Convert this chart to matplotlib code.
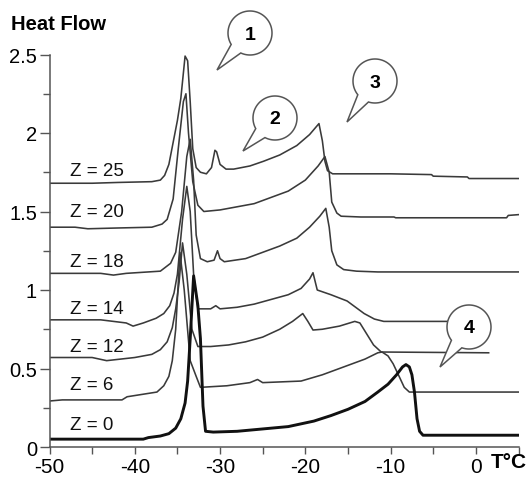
import numpy as np
import matplotlib.pyplot as plt
from matplotlib.patches import Polygon

plt.rcParams['font.family'] = ['Liberation Sans', 'DejaVu Sans']

# traced curves (temperature in degC, heat flow)
t_z25 = [-50, -45, -42, -38, -37, -36.5, -36.0, -35.5, -35.0, -34.6, -34.1, -33.8, -33.5, -33.2,
         -32.8, -32.3, -31.6, -31.0, -30.6, -30.4, -30.0, -29.3, -28.4, -26.5, -24.9, -23, -21,
         -19.5, -18.4, -18.0, -17.7, -17.4, -16.8, -10, -5.2, -5.0, -1.0, -0.8, 5]
hf_z25 = [1.68, 1.68, 1.685, 1.69, 1.70, 1.73, 1.80, 1.94, 2.08, 2.22, 2.49, 2.46, 2.2, 1.9,
          1.78, 1.75, 1.74, 1.78, 1.89, 1.88, 1.80, 1.77, 1.77, 1.79, 1.82, 1.86, 1.92,
          1.99, 2.06, 1.95, 1.82, 1.76, 1.74, 1.74, 1.735, 1.725, 1.72, 1.71, 1.71]

t_z20 = [-50, -47, -45.5, -42, -38, -36.8, -36.2, -35.5, -34.9, -34.3, -34.0, -33.7, -33.2,
         -32.6, -31.9, -30, -28, -26, -24, -22, -20, -18.5, -17.7, -17.2, -16.9, -16.3, -15.8,
         -13.5, -9.6, -9.4, 3.6, 3.8, 5]
hf_z20 = [1.40, 1.40, 1.39, 1.395, 1.40, 1.42, 1.45, 1.58, 1.90, 2.20, 2.25, 2.0, 1.69,
          1.54, 1.50, 1.51, 1.53, 1.55, 1.59, 1.63, 1.70, 1.79, 1.85, 1.75, 1.56, 1.49, 1.47,
          1.465, 1.465, 1.46, 1.46, 1.475, 1.48]

t_z18 = [-50, -44, -42.5, -41, -37, -35.8, -35.2, -34.5, -33.9, -33.5, -33.1, -32.8, -32.3,
         -31.5, -30.7, -30.3, -30.0, -29.5, -27, -25, -23, -21, -19.5, -18.3, -17.6, -17.2,
         -16.9, -16.3, -15.5, -14, -11.5, 5]
hf_z18 = [1.106, 1.106, 1.095, 1.106, 1.12, 1.17, 1.24, 1.5, 1.85, 1.96, 1.7, 1.35, 1.20,
          1.18, 1.19, 1.25, 1.20, 1.18, 1.20, 1.24, 1.28, 1.33, 1.40, 1.47, 1.52, 1.40,
          1.25, 1.16, 1.13, 1.12, 1.115, 1.115]

t_z14 = [-50, -44, -41, -40.2, -39, -37.5, -36.6, -35.9, -35.4, -35.0, -34.4, -33.9, -33.5,
         -33.1, -32.6, -31.1, -30.5, -30.0, -28, -26, -24, -22, -20.5, -19.5, -19.1, -18.6,
         -17, -15.1, -13.1, -11.9, -10.8, -1]
hf_z14 = [0.81, 0.81, 0.79, 0.77, 0.79, 0.82, 0.85, 0.90, 0.98, 1.10, 1.45, 1.66, 1.5,
          1.1, 0.88, 0.88, 0.90, 0.88, 0.89, 0.91, 0.94, 0.97, 1.01, 1.07, 1.11, 1.00,
          0.97, 0.93, 0.85, 0.815, 0.80, 0.80]

t_z12 = [-50, -45, -43.3, -40, -38, -37, -36.2, -35.6, -35.2, -34.8, -34.4, -33.9, -33.3,
         -32.6, -31.1, -29, -27, -25, -23, -21.5, -20.3, -19.7, -19.1, -18, -16, -14.2,
         -13.6, -12.8, -12, -11.1, 1.5]
hf_z12 = [0.57, 0.57, 0.55, 0.57, 0.59, 0.62, 0.67, 0.76, 0.88, 1.05, 1.30, 1.1, 0.75,
          0.64, 0.64, 0.65, 0.67, 0.70, 0.75, 0.80, 0.85, 0.80, 0.745, 0.75, 0.77, 0.80,
          0.79, 0.72, 0.65, 0.605, 0.60]

t_z6 = [-50, -48.5, -41.5, -40.9, -37.4, -36.6, -36.0, -35.6, -35.2, -34.7, -34.2, -33.5,
        -32.8, -32.3, -29.2, -26.5, -25.6, -25.0, -20.5, -18, -15.5, -13, -11.5, -11.0,
        -10.3, -9.7, -9.0, -8.4, -7.8, 5]
hf_z6 = [0.293, 0.30, 0.30, 0.32, 0.35, 0.39, 0.45, 0.55, 0.75, 1.24, 1.0, 0.55,
         0.45, 0.38, 0.39, 0.41, 0.43, 0.41, 0.42, 0.46, 0.51, 0.56, 0.60, 0.605,
         0.58, 0.53, 0.45, 0.38, 0.35, 0.35]

t_z0 = [-50, -39, -38.4, -37, -36, -35.2, -34.6, -34.1, -33.8, -33.5, -33.1, -32.6, -32.3,
        -32.0, -31.7, -30.8, -28, -25, -22, -19, -17, -15, -13, -11.5, -10.3, -9.3, -8.6,
        -8.2, -7.8, -7.5, -7.2, -6.9, -6.6, -6.2, 5]
hf_z0 = [0.05, 0.05, 0.06, 0.07, 0.085, 0.12, 0.18, 0.28, 0.42, 0.69, 1.09, 0.9, 0.69,
         0.26, 0.10, 0.095, 0.10, 0.115, 0.13, 0.165, 0.20, 0.24, 0.29, 0.35, 0.40, 0.46,
         0.51, 0.525, 0.51, 0.46, 0.35, 0.18, 0.10, 0.075, 0.075]

curves = [(t_z25, hf_z25), (t_z20, hf_z20), (t_z18, hf_z18), (t_z14, hf_z14),
          (t_z12, hf_z12), (t_z6, hf_z6)]

z_labels = ['Z = 25', 'Z = 20', 'Z = 18', 'Z = 14', 'Z = 12', 'Z = 6', 'Z = 0']
z_label_y = [1.76, 1.50, 1.18, 0.88, 0.64, 0.40, 0.146]

callout_labels = ['1', '2', '3', '4']
# bubble centre and tail tip, in figure pixels
callout_pos = [((250, 34), (217, 71)), ((275, 119), (243, 152)),
               ((375, 82), (347, 123)), ((469, 328), (440, 368))]

fig = plt.figure(figsize=(5.26, 4.81), dpi=100)
ax = fig.add_axes([49.5 / 526, 1 - 448 / 481, (518.5 - 49.5) / 526, (448 - 55.5) / 481])

line_col = '#3a3a3a'
for t, hf in curves:
    ax.plot(t, hf, color=line_col, lw=1.15)
ax.plot(t_z0, hf_z0, color='#111111', lw=2.1)

for lab, y in zip(z_labels, z_label_y):
    ax.text(-47.6, y, lab, fontsize=13.5, ha='left', va='center', color='#111111')

ax.set_xlim(-50, 5)
ax.set_ylim(0, 2.5)
ax.set_xticks(np.arange(-50, 1, 10))
ax.set_xticks(np.arange(-45, 6, 5), minor=True)
ax.set_xticklabels([str(v) for v in range(-50, 1, 10)])
ax.set_yticks([0, 0.5, 1, 1.5, 2, 2.5])
ax.set_yticklabels(['0', '0.5', '1', '1.5', '2', '2.5'])
ax.set_yticks(np.arange(0.25, 2.5, 0.5), minor=True)
ax.tick_params(axis='x', which='both', length=5, width=1.0, color='#555555', labelsize=15, pad=2)
ax.tick_params(axis='y', which='major', length=7, width=1.0, color='#555555', labelsize=14.5, pad=2)
ax.tick_params(axis='y', which='minor', length=5, width=1.0, color='#555555')
for s in ['top', 'right']:
    ax.spines[s].set_visible(False)
for s in ['left', 'bottom']:
    ax.spines[s].set_color('#555555')
    ax.spines[s].set_linewidth(1.1)

# overlay in pixel coordinates for titles and callouts
ov = fig.add_axes([0, 0, 1, 1])
ov.set_xlim(0, 526)
ov.set_ylim(481, 0)
ov.axis('off')
ov.patch.set_alpha(0)

ov.text(11, 25, 'Heat Flow', fontsize=14.5, fontweight='bold', ha='left', va='center')
ov.text(491, 463, 'T°C', fontsize=15, fontweight='bold', ha='left', va='center')


def bubble(center, tip, label, r=22):
    cx, cy = center
    tx, ty = tip
    ang = np.arctan2(ty - cy, tx - cx)
    d = np.radians(17)
    th = np.linspace(ang + d, ang + 2 * np.pi - d, 120)
    pts = np.column_stack([cx + r * np.cos(th), cy + r * np.sin(th)])
    pts = np.vstack([pts, [tx, ty]])
    ov.add_patch(Polygon(pts, closed=True, facecolor='white', edgecolor='#555555', lw=1.1))
    ov.text(cx, cy + 1, label, fontsize=14, fontweight='bold', ha='center', va='center')


for lab, (c, tip) in zip(callout_labels, callout_pos):
    bubble(c, tip, lab)

fig.savefig('out.png', dpi=100)
